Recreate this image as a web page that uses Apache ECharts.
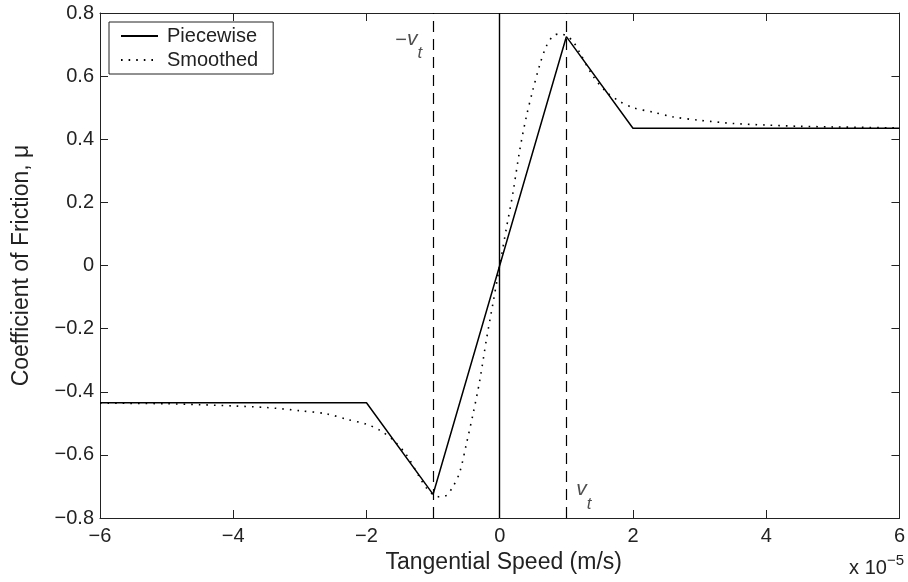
<!DOCTYPE html>
<html>
<head>
<meta charset="utf-8">
<script src="https://cdn.jsdelivr.net/npm/echarts@6/dist/echarts.min.js"></script>
<style>
html,body{margin:0;padding:0;background:#fff;}
#chart{width:908px;height:582px;}
</style>
</head>
<body>
<div id="chart"></div>
<script>
// ---- data (x in units of 1e-5 m/s) ----
var seriesNames = ['Piecewise', 'Smoothed'];
var xTicks = [-6, -4, -2, 0, 2, 4, 6];
var yTicks = [-0.8, -0.6, -0.4, -0.2, 0, 0.2, 0.4, 0.6, 0.8];

var piecewiseX = [-6, -2, -1, 1, 2, 6];
var piecewiseY = [-0.435, -0.435, -0.725, 0.725, 0.435, 0.435];

var smoothX = [-6, -5, -4.5, -4, -3.5, -3, -2.6, -2.3, -2, -1.8, -1.6, -1.4, -1.2, -1.1, -1.0, -0.9, -0.8, -0.7, -0.6, -0.5, -0.4, -0.3, -0.2, -0.1,
  0, 0.1, 0.2, 0.3, 0.4, 0.5, 0.6, 0.7, 0.8, 0.9, 1.0, 1.1, 1.2, 1.4, 1.6, 1.8, 2, 2.3, 2.6, 3, 3.5, 4, 4.5, 5, 6];
var smoothY = [-0.436, -0.438, -0.441, -0.445, -0.450, -0.460, -0.470, -0.487, -0.503, -0.522, -0.553, -0.600, -0.672, -0.705, -0.726, -0.733, -0.728, -0.700, -0.655, -0.565, -0.470, -0.365, -0.235, -0.118,
  0, 0.118, 0.232, 0.365, 0.472, 0.558, 0.635, 0.695, 0.727, 0.734, 0.728, 0.710, 0.675, 0.600, 0.550, 0.520, 0.500, 0.486, 0.471, 0.460, 0.450, 0.445, 0.441, 0.439, 0.436];

var vlineX = [0, -1, 1];          // zero line, -v_t, v_t
var vtLabels = [{x: -1, y: 0.698}, {x: 1, y: -0.73}];

function zip(a, b) { return a.map(function (v, i) { return [v, b[i]]; }); }
function fmtY(v) {
  if (Math.abs(v) < 1e-9) return '0';
  return (v < 0 ? '\u2212' : '') + Math.abs(v).toFixed(1);
}
function fmtX(v) {
  if (Math.abs(v) < 1e-9) return '0';
  return (v < 0 ? '\u2212' : '') + Math.abs(v);
}

var FONT = 'Liberation Sans, Arial, sans-serif';
var AX = '#222';

var chart = echarts.init(document.getElementById('chart'), null, {renderer: 'canvas'});

var baseAxis = {
  type: 'value',
  axisLine: {show: true, onZero: false, lineStyle: {color: AX, width: 1}},
  axisTick: {show: true, inside: true, length: 8, lineStyle: {color: AX, width: 1}},
  splitLine: {show: false}
};

var option = {
  animation: false,
  backgroundColor: '#fff',
  textStyle: {fontFamily: FONT},
  grid: {left: 100, right: 6, top: 13, bottom: 64, containLabel: false},
  legend: {
    data: seriesNames,
    orient: 'vertical',
    left: 109, top: 22,
    padding: [4, 15, 4, 11],
    itemGap: 4,
    itemWidth: 37,
    itemHeight: 14,
    borderColor: '#222', borderWidth: 1,
    backgroundColor: '#fff',
    textStyle: {fontFamily: FONT, fontSize: 20, color: '#222', padding: [0, 0, 0, 4]},
    itemStyle: {opacity: 0},
    selectedMode: false
  },
  xAxis: [
    Object.assign({}, baseAxis, {
      position: 'bottom', min: -6, max: 6, interval: 2,
      name: 'Tangential Speed (m/s)', nameLocation: 'middle', nameGap: 29,
      nameTextStyle: {fontFamily: FONT, fontSize: 23, color: '#222', padding: [0, 0, 0, 8]},
      axisLabel: {show: true, margin: 8, fontFamily: FONT, fontSize: 20, color: '#222', formatter: fmtX}
    }),
    Object.assign({}, baseAxis, {
      position: 'top', min: -6, max: 6, interval: 2,
      axisLabel: {show: false}
    })
  ],
  yAxis: [
    Object.assign({}, baseAxis, {
      position: 'left', min: -0.8, max: 0.8, interval: 0.2,
      name: 'Coefficient of Friction, \u03bc', nameLocation: 'middle', nameGap: 67,
      nameTextStyle: {fontFamily: FONT, fontSize: 23, color: '#222'},
      axisLabel: {show: true, margin: 6, fontFamily: FONT, fontSize: 20, color: '#222', formatter: fmtY}
    }),
    Object.assign({}, baseAxis, {
      position: 'right', min: -0.8, max: 0.8, interval: 0.2,
      axisLabel: {show: false}
    })
  ],
  series: [
    {
      name: 'Piecewise', type: 'line', xAxisIndex: 0, yAxisIndex: 0,
      data: zip(piecewiseX, piecewiseY),
      showSymbol: false, symbol: 'none',
      lineStyle: {color: '#000', width: 1.5, type: 'solid'},
      itemStyle: {color: '#000'},
      z: 3,
      markLine: {
        silent: true, symbol: ['none', 'none'],
        label: {show: false},
        emphasis: {disabled: true},
        data: [
          {xAxis: vlineX[0], lineStyle: {color: '#000', width: 1.4, type: 'solid'}},
          {xAxis: vlineX[1], lineStyle: {color: '#000', width: 1.2, type: [11, 7]}},
          {xAxis: vlineX[2], lineStyle: {color: '#000', width: 1.2, type: [11, 7]}}
        ]
      }
    },
    {
      name: 'Smoothed', type: 'line', xAxisIndex: 0, yAxisIndex: 0,
      data: zip(smoothX, smoothY),
      smooth: 0.3,
      showSymbol: false, symbol: 'none',
      lineStyle: {color: '#000', width: 1.6, type: [1.6, 6]},
      itemStyle: {color: '#000'},
      z: 2
    },
    {
      name: 'labels', type: 'scatter', xAxisIndex: 0, yAxisIndex: 0,
      symbolSize: 0, silent: true,
      data: [
        {value: [vtLabels[0].x, vtLabels[0].y], label: {position: 'left', distance: 11,
          formatter: '{m|\u2212}{v|v}{t|t}'}},
        {value: [vtLabels[1].x, vtLabels[1].y], label: {position: 'right', distance: 10,
          formatter: '{v|v}{t|t}'}}
      ],
      label: {
        show: true, color: '#222',
        rich: {
          m: {fontFamily: FONT, fontSize: 20, color: '#222', lineHeight: 20, verticalAlign: 'top', padding: [2, 0, 0, 0]},
          v: {fontFamily: FONT, fontSize: 21, fontStyle: 'italic', color: '#222', lineHeight: 20, verticalAlign: 'top'},
          t: {fontFamily: FONT, fontSize: 17, fontStyle: 'italic', color: '#222', lineHeight: 34, verticalAlign: 'bottom'}
        }
      }
    }
  ],
  graphic: [
    {
      type: 'text', right: 4, bottom: 4,
      style: {
        text: '{a|x 10}{b|\u22125}',
        rich: {
          a: {fontFamily: FONT, fontSize: 20, fill: '#222', lineHeight: 30, verticalAlign: 'bottom'},
          b: {fontFamily: FONT, fontSize: 15, fill: '#222', lineHeight: 30, verticalAlign: 'top', padding: [5, 0, 0, 0]}
        }
      }
    }
  ]
};
chart.setOption(option);
</script>
</body>
</html>
